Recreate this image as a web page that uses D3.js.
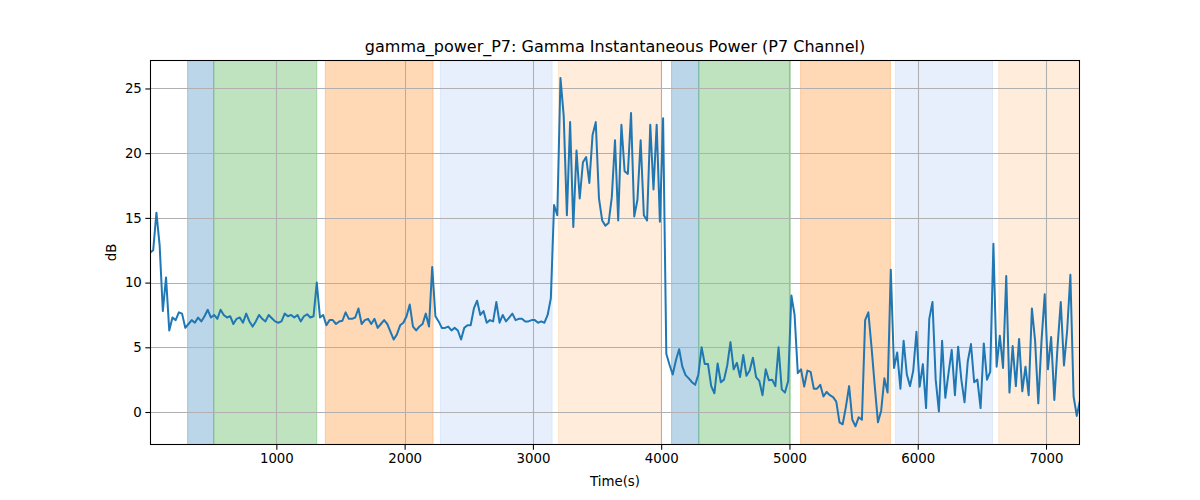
<!DOCTYPE html>
<html>
<head>
<meta charset="utf-8">
<script src="https://cdn.jsdelivr.net/npm/d3@7"></script>
<style>
  html, body { margin: 0; padding: 0; background: #ffffff; }
  svg { display: block; }
  text { font-family: "DejaVu Sans", sans-serif; fill: #000; }
</style>
</head>
<body>
<svg id="chart" width="1200" height="500"></svg>
<script>
// ---- data ----
const chartTitle = "gamma_power_P7: Gamma Instantaneous Power (P7 Channel)";
const xLabel = "Time(s)";
const yLabel = "dB";
const timeStart = 15;     // seconds, first sample
const timeStep = 25;      // seconds between samples
const powerDb = [
  12.3, 12.5, 15.4, 12.9, 7.8, 10.4, 6.3, 7.3, 7.1, 7.7,
  7.6, 6.5, 6.8, 7.1, 6.9, 7.3, 7.0, 7.4, 7.9, 7.3,
  7.5, 7.2, 7.9, 7.5, 7.3, 7.4, 6.8, 7.2, 7.3, 6.9,
  7.6, 7.0, 6.6, 7.0, 7.5, 7.2, 7.0, 7.5, 7.25, 7.0,
  6.9, 7.0, 7.6, 7.4, 7.5, 7.3, 7.5, 7.0, 7.4, 7.55,
  7.3, 7.4, 10.0, 7.3, 7.5, 6.7, 7.1, 7.1, 6.8, 7.0,
  7.05, 7.7, 7.2, 7.2, 7.3, 8.0, 6.8, 7.1, 7.2, 6.8,
  7.2, 6.5, 6.8, 7.1, 6.8, 6.2, 5.6, 6.0, 6.7, 6.9,
  7.4, 8.3, 6.6, 6.3, 6.6, 6.8, 7.6, 6.6, 11.2, 7.4,
  7.0, 6.5, 6.5, 6.6, 6.3, 6.5, 6.3, 5.6, 6.5, 6.7,
  6.7, 8.0, 8.6, 7.5, 7.8, 6.9, 7.1, 7.0, 8.5, 6.9,
  7.5, 7.0, 7.3, 7.6, 7.1, 7.2, 7.2, 7.0, 7.0, 7.1,
  7.1, 6.9, 7.0, 6.9, 7.5, 8.8, 16.0, 15.2, 25.8, 22.9,
  15.2, 22.4, 14.3, 20.2, 16.5, 19.3, 19.7, 17.7, 21.4, 22.4,
  16.5, 14.8, 14.4, 14.6, 16.6, 21.0, 14.8, 22.2, 18.6, 18.4,
  23.1, 15.1, 16.4, 21.0, 15.2, 14.8, 22.2, 17.2, 22.2, 14.7,
  22.7, 4.5, 3.65, 2.9, 4.0, 4.85, 3.5, 2.85, 2.6, 2.3,
  2.1, 2.9, 5.0, 3.7, 3.7, 2.0, 1.45, 3.75, 2.3, 2.5,
  3.6, 5.4, 3.3, 3.8, 2.7, 4.4, 2.8, 3.2, 4.2, 2.7,
  2.4, 1.3, 3.3, 2.45, 2.5, 2.0, 5.0, 1.75, 1.5, 2.4,
  9.0, 7.5, 3.0, 3.3, 1.96, 3.2, 3.1, 1.8, 1.8, 2.1,
  1.2, 1.55, 1.3, 1.15, 0.8, -0.8, -0.95, 0.4, 2.0, -0.6,
  -1.1, -0.4, -0.6, 7.1, 7.7, 5.0, 2.0, -0.8, 0.1, 2.6,
  1.5, 11.0, 3.4, 4.6, 1.8, 5.5, 2.9, 2.0, 3.2, 6.2,
  1.96, 3.7, 0.3, 7.2, 8.5, 2.5, 0.05, 5.5, 1.1, 3.0,
  4.8, 1.3, 5.05, 2.5, 0.75, 3.9, 5.25, 2.3, 2.5, 0.3,
  5.3, 2.5, 3.1, 13.0, 3.5, 5.9, 3.4, 10.5, 1.5, 5.1,
  2.0, 5.65, 1.6, 3.5, 1.3, 8.0, 5.5, 0.67, 5.5, 9.1,
  3.3, 5.8, 0.93, 5.05, 8.5, 3.6, 6.3, 10.6, 1.2, -0.3,
  0.9
];
const bandStarts = [308, 512, 1382, 2279, 3200, 4081, 4293, 5087, 5827, 6632];
const bandEnds   = [512, 1315, 2222, 3150, 4001, 4293, 5007, 5787, 6583, 7400];
const bandKinds  = ["blue", "green", "orange", "lightblue", "lightorange",
                    "blue", "green", "orange", "lightblue", "lightorange"];
const xTicks = [1000, 2000, 3000, 4000, 5000, 6000, 7000];
const yTicks = [0, 5, 10, 15, 20, 25];

// ---- styles / layout ----
const bandFill = {
  blue: "rgba(31,119,180,0.3)",
  green: "rgba(44,160,44,0.3)",
  orange: "rgba(255,127,14,0.3)",
  lightblue: "rgba(100,149,237,0.15)",
  lightorange: "rgba(255,127,14,0.15)"
};
const W = 1200, H = 500;
const M = { left: 150, right: 1080, top: 60, bottom: 445 };
const yDomain = [-2.55, 27.2];

const times = powerDb.map((_, i) => timeStart + i * timeStep);
const series = powerDb.map((v, i) => ({ t: times[i], v }));

const svg = d3.select("#chart");
const x = d3.scaleLinear().domain([times[0], times[times.length - 1]]).range([M.left, M.right]);
const y = d3.scaleLinear().domain(yDomain).range([M.bottom, M.top]);

svg.append("defs").append("clipPath").attr("id", "plotclip")
  .append("rect").attr("x", M.left).attr("y", M.top)
  .attr("width", M.right - M.left).attr("height", M.bottom - M.top);

const plot = svg.append("g").attr("clip-path", "url(#plotclip)");

// bands
plot.selectAll("rect.band").data(bandStarts.map((s, i) => ({ s, e: bandEnds[i], k: bandKinds[i] })))
  .enter().append("rect").attr("class", "band")
  .attr("x", d => x(d.s)).attr("y", M.top)
  .attr("width", d => x(d.e) - x(d.s)).attr("height", M.bottom - M.top)
  .attr("fill", d => bandFill[d.k])
  .attr("stroke", d => bandFill[d.k]).attr("stroke-width", 1);

// grid
const grid = plot.append("g");
grid.selectAll("line.gx").data(xTicks).enter().append("line")
  .attr("x1", d => Math.round(x(d)) + 0.5).attr("x2", d => Math.round(x(d)) + 0.5)
  .attr("y1", M.top).attr("y2", M.bottom)
  .attr("stroke", "#b0b0b0").attr("stroke-width", 1.07);
grid.selectAll("line.gy").data(yTicks).enter().append("line")
  .attr("y1", d => Math.round(y(d)) + 0.5).attr("y2", d => Math.round(y(d)) + 0.5)
  .attr("x1", M.left).attr("x2", M.right)
  .attr("stroke", "#b0b0b0").attr("stroke-width", 1.07);

// line
plot.append("path").datum(series)
  .attr("fill", "none").attr("stroke", "#1f77b4").attr("stroke-width", 2)
  .attr("stroke-linejoin", "round").attr("stroke-linecap", "square")
  .attr("d", d3.line().x(d => x(d.t)).y(d => y(d.v)));

// axes
const xAxis = d3.axisBottom(x).tickValues(xTicks).tickSize(4.67).tickPadding(3.5).tickFormat(d3.format("d"));
const yAxis = d3.axisLeft(y).tickValues(yTicks).tickSize(4.67).tickPadding(3.5).tickFormat(d3.format("d"));

const gx = svg.append("g").attr("transform", `translate(0,${M.bottom})`).call(xAxis);
const gy = svg.append("g").attr("transform", `translate(${M.left},0)`).call(yAxis);
[gx, gy].forEach(g => {
  g.select(".domain").remove();
  g.selectAll(".tick line").attr("stroke", "#000").attr("stroke-width", 1.07);
  g.selectAll(".tick text").attr("font-size", "13.33px").attr("font-family", "DejaVu Sans, sans-serif").attr("fill", "#000");
});

// spines
svg.append("rect").attr("x", M.left + 0.5).attr("y", M.top + 0.5)
  .attr("width", M.right - M.left - 1).attr("height", M.bottom - M.top - 1)
  .attr("fill", "none").attr("stroke", "#000").attr("stroke-width", 1.07);

// labels
svg.append("text").attr("x", (M.left + M.right) / 2).attr("y", 52)
  .attr("text-anchor", "middle").attr("font-size", "16px").text(chartTitle);
svg.append("text").attr("x", (M.left + M.right) / 2).attr("y", 486)
  .attr("text-anchor", "middle").attr("font-size", "13.33px").text(xLabel);
svg.append("text").attr("transform", `translate(116,${(M.top + M.bottom) / 2}) rotate(-90)`)
  .attr("text-anchor", "middle").attr("font-size", "13.33px").text(yLabel);
</script>
</body>
</html>
